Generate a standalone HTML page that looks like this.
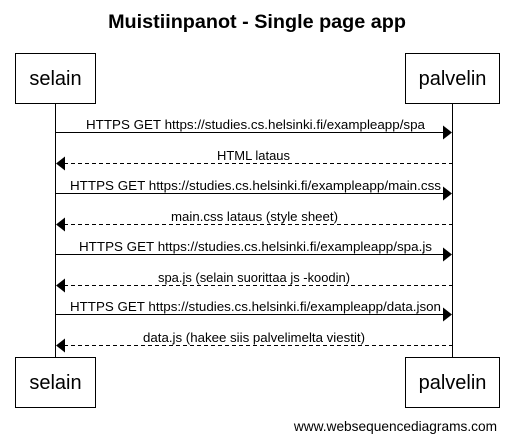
<!DOCTYPE html>
<html><head><style>html,body{margin:0;padding:0;background:#fff}</style></head>
<body>
<svg width="514" height="442" xmlns="http://www.w3.org/2000/svg" font-family="Liberation Sans, Arial, sans-serif">
<rect width="514" height="442" fill="#fff"/>
<text x="257" y="28" text-anchor="middle" font-size="19.8" font-weight="bold">Muistiinpanot - Single page app</text>
<g stroke="#000" stroke-width="1" fill="#fff">
<line x1="55.5" y1="103" x2="55.5" y2="358"/>
<line x1="452.5" y1="103" x2="452.5" y2="358"/>
<rect x="15.5" y="53.5" width="80" height="50"/>
<rect x="405.5" y="53.5" width="94" height="50"/>
<rect x="15.5" y="357.5" width="80" height="50"/>
<rect x="405.5" y="357.5" width="94" height="50"/>
</g>
<g font-size="20" text-anchor="middle">
<text x="55.5" y="85">selain</text><text x="452.5" y="85">palvelin</text>
<text x="55.5" y="389">selain</text><text x="452.5" y="389">palvelin</text>
</g>
<g stroke="#000" stroke-width="1">
<line x1="55" y1="132.5" x2="444" y2="132.5"/>
<line x1="64" y1="163.5" x2="452" y2="163.5" stroke-dasharray="4,3"/>
<line x1="55" y1="193.5" x2="444" y2="193.5"/>
<line x1="64" y1="224.5" x2="452" y2="224.5" stroke-dasharray="4,3"/>
<line x1="55" y1="254.5" x2="444" y2="254.5"/>
<line x1="64" y1="285.5" x2="452" y2="285.5" stroke-dasharray="4,3"/>
<line x1="55" y1="314.5" x2="444" y2="314.5"/>
<line x1="64" y1="345.5" x2="452" y2="345.5" stroke-dasharray="4,3"/>
</g>
<g fill="#000">
<polygon points="443,125.5 452,132.5 443,139.5"/>
<polygon points="65,156.5 56,163.5 65,170.5"/>
<polygon points="443,186.5 452,193.5 443,200.5"/>
<polygon points="65,217.5 56,224.5 65,231.5"/>
<polygon points="443,247.5 452,254.5 443,261.5"/>
<polygon points="65,278.5 56,285.5 65,292.5"/>
<polygon points="443,307.5 452,314.5 443,321.5"/>
<polygon points="65,338.5 56,345.5 65,352.5"/>
</g>
<g font-size="13" lengthAdjust="spacingAndGlyphs">
<text x="86" y="129" textLength="339" lengthAdjust="spacingAndGlyphs">HTTPS GET https://studies.cs.helsinki.fi/exampleapp/spa</text>
<text x="217" y="160" textLength="73" lengthAdjust="spacingAndGlyphs">HTML lataus</text>
<text x="70" y="190" textLength="371" lengthAdjust="spacingAndGlyphs">HTTPS GET https://studies.cs.helsinki.fi/exampleapp/main.css</text>
<text x="171" y="221" textLength="167" lengthAdjust="spacingAndGlyphs">main.css lataus (style sheet)</text>
<text x="79" y="251" textLength="353" lengthAdjust="spacingAndGlyphs">HTTPS GET https://studies.cs.helsinki.fi/exampleapp/spa.js</text>
<text x="158" y="282" textLength="192" lengthAdjust="spacingAndGlyphs">spa.js (selain suorittaa js -koodin)</text>
<text x="70" y="311" textLength="371" lengthAdjust="spacingAndGlyphs">HTTPS GET https://studies.cs.helsinki.fi/exampleapp/data.json</text>
<text x="143" y="342" textLength="222" lengthAdjust="spacingAndGlyphs">data.js (hakee siis palvelimelta viestit)</text>
</g>
<text x="497" y="431" text-anchor="end" font-size="13.7">www.websequencediagrams.com</text>
</svg>
</body></html>
